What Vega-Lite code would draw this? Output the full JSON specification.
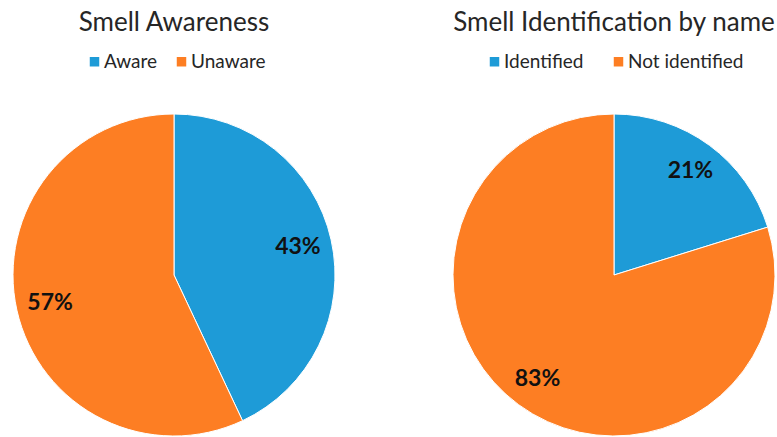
{
  "$schema": "https://vega.github.io/schema/vega-lite/v6.json",
  "padding": {"left": 11, "top": 10, "right": 0, "bottom": 0},
  "background": "white",
  "bounds": "flush",
  "spacing": 118,
  "config": {
    "view": {"stroke": null},
    "font": "Lato",
    "title": {"fontSize": 26, "fontWeight": "normal", "color": "#262626", "font": "Lato"},
    "legend": {
      "labelFontSize": 19,
      "labelFont": "Lato",
      "labelColor": "#262626",
      "symbolType": "square",
      "symbolSize": 90,
      "symbolStrokeWidth": 0,
      "labelOffset": 0,
      "title": null
    }
  },
  "resolve": {"scale": {"color": "independent"}, "legend": {"color": "independent"}},
  "hconcat": [
    {
      "width": 322,
      "height": 322,
      "title": {"text": "Smell Awareness", "offset": 16},
      "data": {"values": [
        {"group": "Aware", "share": 0.43},
        {"group": "Unaware", "share": 0.57}
      ]},
      "encoding": {
        "theta": {"field": "share", "type": "quantitative", "stack": true},
        "color": {
          "field": "group",
          "type": "nominal",
          "scale": {"domain": ["Aware", "Unaware"], "range": ["#1e9bd7", "#fd7e23"]},
          "legend": {"orient": "none", "direction": "horizontal", "legendX": 72, "legendY": -62, "columnPadding": 14}
        }
      },
      "layer": [
        {"mark": {"type": "arc", "outerRadius": 161, "stroke": "white", "strokeWidth": 1}},
        {
          "mark": {"type": "text", "radius": 127, "fontSize": 23, "fontWeight": "bold", "font": "Lato"},
          "encoding": {
            "text": {"field": "share", "type": "quantitative", "format": ".0%"},
            "color": {"value": "#111111"},
            "detail": {"field": "group", "type": "nominal"}
          }
        }
      ]
    },
    {
      "width": 322,
      "height": 322,
      "title": {"text": "Smell Identification by name", "offset": 16},
      "data": {"values": [
        {"group": "Identified", "share": 0.21},
        {"group": "Not identified", "share": 0.83}
      ]},
      "encoding": {
        "theta": {"field": "share", "type": "quantitative", "stack": true},
        "color": {
          "field": "group",
          "type": "nominal",
          "scale": {"domain": ["Identified", "Not identified"], "range": ["#1e9bd7", "#fd7e23"]},
          "legend": {"orient": "none", "direction": "horizontal", "legendX": 32, "legendY": -62, "columnPadding": 25}
        }
      },
      "layer": [
        {"mark": {"type": "arc", "outerRadius": 161, "stroke": "white", "strokeWidth": 1}},
        {
          "mark": {"type": "text", "radius": 129, "fontSize": 23, "fontWeight": "bold", "font": "Lato"},
          "encoding": {
            "text": {"field": "share", "type": "quantitative", "format": ".0%"},
            "color": {"value": "#111111"},
            "detail": {"field": "group", "type": "nominal"}
          }
        }
      ]
    }
  ]
}
